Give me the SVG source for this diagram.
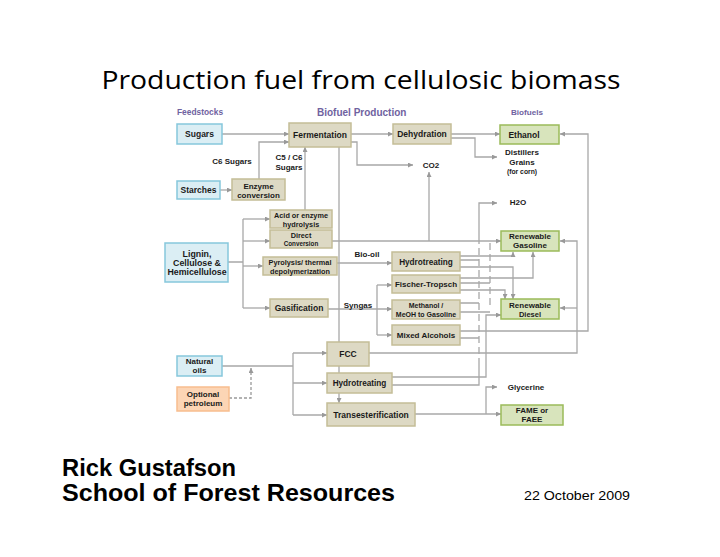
<svg xmlns="http://www.w3.org/2000/svg" width="720" height="557" viewBox="0 0 720 557">
<style>
.t{font-family:"Liberation Sans",Arial,sans-serif;font-weight:bold;fill:#1a1a1a;text-anchor:middle}
.h{font-family:"Liberation Sans",Arial,sans-serif;font-weight:bold;fill:#6f62a0}
.b{fill:#dbeef4;stroke:#86c7dc;stroke-width:1.5}
.p{fill:#ddd9c4;stroke:#c4bd97;stroke-width:1.5}
.g{fill:#d8e4bc;stroke:#9bbb59;stroke-width:1.5}
.o{fill:#fcd5b5;stroke:#f8bd8e;stroke-width:1.5}
.c path{fill:none;stroke:#a8a8a8;stroke-width:1.3}
.c .a{marker-end:url(#ar)}
.c .d{stroke-dasharray:7 4}
.c .dp{stroke-dasharray:3 2;stroke:#999}
</style>
<defs>
<marker id="ar" viewBox="0 0 6 6" refX="6" refY="3" markerWidth="5" markerHeight="5" markerUnits="userSpaceOnUse" orient="auto">
<path d="M0,0 L6,3 L0,6 z" fill="#999"/>
</marker>
</defs>
<rect width="720" height="557" fill="#fff"/>
<text x="361" y="89" font-family="'Open Sans','Liberation Sans',sans-serif" font-size="26" fill="#000" text-anchor="middle" textLength="519" lengthAdjust="spacingAndGlyphs">Production fuel from cellulosic biomass</text>

<text class="h" x="177" y="115" font-size="8.4">Feedstocks</text>
<text class="h" x="317" y="116" font-size="10">Biofuel Production</text>
<text class="h" x="511" y="115" font-size="8.1">Biofuels</text>

<g class="c" id="connectors">
<path class="a" d="M222,134 H289"/>
<path class="a" d="M259,179 V142 H289"/>
<path class="a" d="M220,190 H232"/>
<path class="a" d="M305,210 V147"/>
<path class="a" d="M351,134 H393"/>
<path class="a" d="M351,142 H357 V165 H413"/>
<path class="a" d="M451,134 H500"/>
<path class="a" d="M451,138 H475 V157 H497"/>
<path d="M339,147 V342"/>
<path d="M339,366 V373"/>
<path class="a" d="M339,393 V403"/>
<path d="M228,262 H243 M243,219 V308"/>
<path class="a" d="M243,219 H270"/>
<path class="a" d="M243,241 H270"/>
<path class="a" d="M243,266 H263"/>
<path class="a" d="M243,308 H270"/>
<path class="a" d="M332,241 H501"/>
<path class="a" d="M429,241 V172"/>
<path class="a" d="M337,263 H392"/>
<path class="a" d="M328,309 H392"/>
<path d="M377,285 V335"/>
<path class="a" d="M377,285 H392"/>
<path class="a" d="M377,335 H392"/>
<path class="a" d="M460,256 H513 V252"/>
<path class="a" d="M460,267 H513 V299"/>
<path class="a" d="M460,278 H533 V252"/>
<path class="a" d="M460,290 H505 V299"/>
<path class="a" d="M479,237 V203 H497"/>
<path class="d" d="M479,237 V360"/>
<path class="d" d="M490,243 V305"/>
<path d="M460,260 H479 M460,283 H490 M460,303 H479 M460,312 H490 M460,338 H479"/>
<path class="a" d="M460,331 H588 V134 H560"/>
<path class="a" d="M369,353 H577 V241 H560"/>
<path class="a" d="M577,308 H560"/>
<path class="a" d="M392,377 H486 V315 H501"/>
<path d="M392,385 H479 V360"/>
<path d="M222,366 H293 M293,353 V415"/>
<path class="a" d="M293,353 H327"/>
<path class="a" d="M293,383 H327"/>
<path class="a" d="M293,415 H327"/>
<path class="a dp" d="M229,398 H251 V368"/>
<path class="a" d="M415,414 H501"/>
<path class="a" d="M486,414 V387 H497"/>
</g>

<g class="t" font-size="8">
<text x="232" y="164">C6 Sugars</text>
<text x="289" y="160">C5 / C6</text>
<text x="289" y="170">Sugars</text>
<text x="431" y="168">CO2</text>
<text x="522" y="155">Distillers</text>
<text x="522" y="165">Grains</text>
<text x="522" y="174" font-size="6.8">(for corn)</text>
<text x="518" y="205">H2O</text>
<text x="367" y="257">Bio-oil</text>
<text x="358" y="308">Syngas</text>
<text x="526" y="390">Glycerine</text>
</g>

<g id="sugars"><rect class="b" x="177" y="124" width="45" height="20"/><text class="t" x="199.5" y="137" font-size="8.5">Sugars</text></g>
<g id="fermentation"><rect class="p" x="289" y="123" width="62" height="24"/><text class="t" x="320" y="138" font-size="8.5">Fermentation</text></g>
<g id="dehydration"><rect class="p" x="393" y="124" width="58" height="20"/><text class="t" x="422" y="137" font-size="8.5">Dehydration</text></g>
<g id="ethanol"><rect class="g" x="500" y="125" width="59" height="19"/><text class="t" x="524" y="137.5" font-size="8.5">Ethanol</text></g>
<g id="starches"><rect class="b" x="177" y="181" width="43" height="18"/><text class="t" x="198.5" y="193" font-size="8.5">Starches</text></g>
<g id="enzyme"><rect class="p" x="232" y="179" width="53" height="21"/><text class="t" x="258.5" y="189" font-size="8">Enzyme</text><text class="t" x="258.5" y="198" font-size="8">conversion</text></g>
<g id="acid"><rect class="p" x="270" y="210" width="62" height="18"/><text class="t" x="301" y="218" font-size="7.3">Acid or enzyme</text><text class="t" x="301" y="226.5" font-size="7.3">hydrolysis</text></g>
<g id="direct"><rect class="p" x="270" y="230" width="62" height="18"/><text class="t" x="301" y="238" font-size="7.3">Direct</text><text class="t" x="301" y="246" font-size="6.3">Conversion</text></g>
<g id="lignin"><rect class="b" x="165" y="243" width="63" height="39"/><text class="t" x="197" y="257" font-size="8.8">Lignin,</text><text class="t" x="197" y="266" font-size="8.8">Cellulose &amp;</text><text class="t" x="197" y="275" font-size="8.8">Hemicellulose</text></g>
<g id="pyrolysis"><rect class="p" x="263" y="257" width="74" height="18"/><text class="t" x="300" y="265" font-size="7.3">Pyrolysis/ thermal</text><text class="t" x="300" y="273.5" font-size="7.3">depolymerization</text></g>
<g id="gasification"><rect class="p" x="270" y="299" width="58" height="18"/><text class="t" x="299" y="311" font-size="8.5">Gasification</text></g>
<g id="hydrotreating1"><rect class="p" x="392" y="252" width="68" height="19"/><text class="t" x="426" y="264.5" font-size="8.2">Hydrotreating</text></g>
<g id="fischer"><rect class="p" x="392" y="275" width="68" height="18"/><text class="t" x="426" y="287" font-size="8">Fischer-Tropsch</text></g>
<g id="methanol"><rect class="p" x="392" y="300" width="68" height="19"/><text class="t" x="426" y="308" font-size="7">Methanol /</text><text class="t" x="426" y="316.5" font-size="7">MeOH to Gasoline</text></g>
<g id="mixed"><rect class="p" x="392" y="325" width="68" height="20"/><text class="t" x="426" y="338" font-size="8">Mixed Alcohols</text></g>
<g id="gasoline"><rect class="g" x="501" y="231" width="58" height="20"/><text class="t" x="530" y="239" font-size="8">Renewable</text><text class="t" x="530" y="248" font-size="8">Gasoline</text></g>
<g id="diesel"><rect class="g" x="501" y="299" width="58" height="20"/><text class="t" x="530" y="307.5" font-size="8">Renewable</text><text class="t" x="530" y="316.5" font-size="7.5">Diesel</text></g>
<g id="fcc"><rect class="p" x="327" y="342" width="42" height="24"/><text class="t" x="348" y="357" font-size="8.5">FCC</text></g>
<g id="naturaloils"><rect class="b" x="177" y="356" width="45" height="20"/><text class="t" x="199.5" y="364" font-size="8">Natural</text><text class="t" x="199.5" y="373" font-size="8">oils</text></g>
<g id="hydrotreating2"><rect class="p" x="327" y="373" width="65" height="20"/><text class="t" x="359.5" y="386" font-size="8.2">Hydrotreating</text></g>
<g id="petroleum"><rect class="o" x="177" y="387" width="52" height="24"/><text class="t" x="203" y="397" font-size="8">Optional</text><text class="t" x="203" y="406" font-size="8">petroleum</text></g>
<g id="transesterification"><rect class="p" x="327" y="403" width="88" height="23"/><text class="t" x="371" y="417.5" font-size="8.5">Transesterification</text></g>
<g id="fame"><rect class="g" x="501" y="405" width="62" height="20"/><text class="t" x="532" y="412.5" font-size="8">FAME or</text><text class="t" x="532" y="421.5" font-size="8">FAEE</text></g>

<text x="62" y="476" font-family="'Liberation Sans',Arial,sans-serif" font-weight="bold" font-size="23.5" fill="#000" textLength="174" lengthAdjust="spacingAndGlyphs">Rick Gustafson</text>
<text x="62" y="501" font-family="'Liberation Sans',Arial,sans-serif" font-weight="bold" font-size="24.5" fill="#000" textLength="333" lengthAdjust="spacingAndGlyphs">School of Forest Resources</text>
<text x="524" y="500" font-family="'Liberation Sans',Arial,sans-serif" font-size="13" fill="#000" textLength="106" lengthAdjust="spacingAndGlyphs">22 October 2009</text>
</svg>
